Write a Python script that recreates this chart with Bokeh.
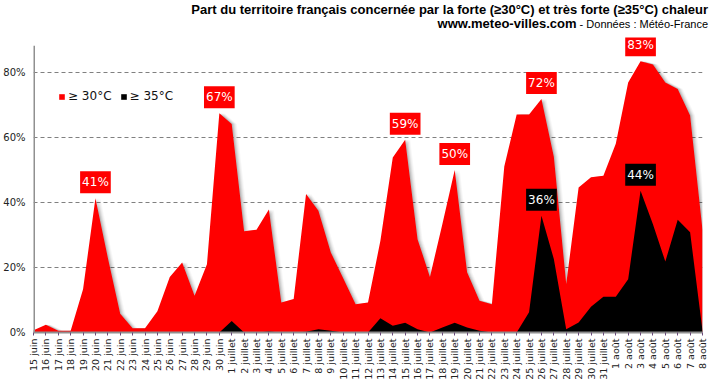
import math
from bokeh.plotting import figure
from bokeh.layouts import column
from bokeh.models import Range1d, FixedTicker, Label, Legend, LegendItem, ColumnDataSource, Div
from bokeh.embed import file_html
from bokeh.resources import INLINE

dates = ["15 juin", "16 juin", "17 juin", "18 juin", "19 juin", "20 juin", "21 juin", "22 juin",
         "23 juin", "24 juin", "25 juin", "26 juin", "27 juin", "28 juin", "29 juin", "30 juin",
         "1 juillet", "2 juillet", "3 juillet", "4 juillet", "5 juillet", "6 juillet", "7 juillet",
         "8 juillet", "9 juillet", "10 juillet", "11 juillet", "12 juillet", "13 juillet",
         "14 juillet", "15 juillet", "16 juillet", "17 juillet", "18 juillet", "19 juillet",
         "20 juillet", "21 juillet", "22 juillet", "23 juillet", "24 juillet", "25 juillet",
         "26 juillet", "27 juillet", "28 juillet", "29 juillet", "30 juillet", "31 juillet",
         "1 août", "2 août", "3 août", "4 août", "5 août", "6 août", "7 août", "8 août"]

hot30 = [0.7, 2.4, 0.5, 0.5, 13.3, 41.3, 23.0, 5.8, 1.3, 1.3, 6.5, 17.1, 21.5, 11.3, 21.0, 67.4,
         64.1, 31.1, 31.6, 37.8, 9.2, 10.3, 42.6, 37.4, 24.6, 16.7, 8.7, 9.2, 28.2, 53.8, 59.3,
         28.7, 17.1, 33.3, 50.0, 18.5, 9.8, 8.7, 51.0, 67.0, 67.0, 71.8, 54.0, 14.9, 44.6, 47.7,
         48.2, 58.0, 76.9, 83.4, 82.4, 76.9, 74.9, 66.7, 31.5]

hot35 = [0, 0, 0, 0, 0, 0, 0, 0, 0, 0, 0, 0, 0, 0, 0, 0,
         3.5, 0, 0, 0.3, 0, 0, 0.2, 1.0, 0.5, 0, 0, 0, 4.4, 2.1, 3.0,
         1.0, 0, 1.5, 3.0, 1.5, 0.5, 0, 0, 0, 6.2, 35.9, 22.6, 1.0, 3.1, 7.9,
         11.0, 11.0, 16.4, 43.6, 33.3, 21.8, 34.7, 30.8, 0.5]

peaks30 = [5, 15, 30, 34, 41, 49]
peaks35 = [41, 49]

y_ticks = [0, 20, 40, 60, 80]
y_axis_top = 88.2

title1 = "Part du territoire français concernée par la forte (≥30°C) et très forte (≥35°C) chaleur"
title2_bold = "www.meteo-villes.com"
title2_rest = " - Données : Météo-France"

xs = list(range(len(dates)))
src = ColumnDataSource(dict(x=xs, red=hot30, black=hot35))

W = 713
head = Div(text=(
    f'<div style="width:{W - 5}px;text-align:right;font-family:\'Liberation Sans\';'
    'line-height:14px;color:black;margin-top:3px;white-space:nowrap;">'
    f'<div style="font-weight:bold;font-size:13px;">{title1}</div>'
    f'<div><b style="font-size:13px;">{title2_bold}</b>'
    f'<span style="font-size:11px;">{title2_rest}</span></div></div>'),
    width=W, height=32, margin=0)

p = figure(width=W, height=350, output_backend="svg", toolbar_location=None,
           x_range=Range1d(0, len(dates) - 1), y_range=Range1d(0, 90.7),
           min_border_left=32, min_border_right=11, min_border_top=5, min_border_bottom=50,
           margin=0)
p.outline_line_color = None
p.background_fill_color = "white"

# soft drop shadow on the right of the red area
px = (len(dates) - 1) / 666.0
for k, a in [(1, 0.10), (2, 0.08), (3, 0.06), (4, 0.04), (5, 0.03)]:
    p.varea(x=[v + k * px for v in xs], y1=0, y2=hot30, fill_color="black", fill_alpha=a)

r_red = p.varea(x="x", y1=0, y2="red", source=src, fill_color="#FF0000")
r_black = p.varea(x="x", y1=0, y2="black", source=src, fill_color="black")

# y axis line (stops below the frame top, like the reference)
p.segment(x0=[0], y0=[0], x1=[0], y1=[y_axis_top], line_color="#909090", line_width=3)

# axes
p.xaxis.ticker = FixedTicker(ticks=xs)
p.xaxis.major_label_overrides = {i: d for i, d in enumerate(dates)}
p.xaxis.major_label_orientation = math.pi / 2
p.xaxis.major_label_text_font = "DejaVu Sans"
p.xaxis.major_label_text_font_size = "9.5px"
p.xaxis.major_label_text_color = "#222222"
p.xaxis.major_label_standoff = 3
p.xaxis.major_tick_out = 3
p.xaxis.major_tick_in = 0
p.xaxis.major_tick_line_color = "#6a4a7a"
p.xaxis.minor_tick_line_color = None
p.xaxis.axis_line_color = "#909090"
p.xaxis.axis_line_width = 2

p.yaxis.ticker = FixedTicker(ticks=y_ticks)
p.yaxis.major_label_overrides = {t: f"{t}%" for t in y_ticks}
p.yaxis.major_label_text_font = "DejaVu Sans"
p.yaxis.major_label_text_font_size = "10px"
p.yaxis.major_label_text_color = "#222222"
p.yaxis.major_tick_out = 0
p.yaxis.major_tick_in = 0
p.yaxis.minor_tick_line_color = None
p.yaxis.major_label_standoff = 8
p.yaxis.axis_line_color = None

p.xgrid.visible = False
p.ygrid.grid_line_color = "#808080"
p.ygrid.grid_line_dash = "4 3"
p.ygrid.grid_line_width = 1

# value labels
for i in peaks30:
    p.add_layout(Label(x=xs[i], y=hot30[i], text=f"{round(hot30[i])}%", y_offset=16,
                       text_align="center", text_baseline="middle",
                       text_font="DejaVu Sans", text_font_size="12px", text_color="white",
                       background_fill_color="#FF0000", padding=(2, 4)))
for i in peaks35:
    p.add_layout(Label(x=xs[i], y=hot35[i], text=f"{round(hot35[i])}%", y_offset=16,
                       text_align="center", text_baseline="middle",
                       text_font="DejaVu Sans", text_font_size="12px", text_color="white",
                       background_fill_color="black", padding=(2, 4)))

# legend
legend = Legend(items=[LegendItem(label="≥ 30°C", renderers=[r_red]),
                       LegendItem(label="≥ 35°C", renderers=[r_black])],
                orientation="horizontal", location=(25, 229),
                glyph_width=7, glyph_height=7, label_standoff=3, spacing=8,
                label_text_font="DejaVu Sans", label_text_font_size="12px",
                label_text_color="#111111", label_height=10,
                background_fill_alpha=0, border_line_color=None, padding=0, margin=0)
p.add_layout(legend)

layout = column(head, p, spacing=0)
open("out.html", "w").write(file_html(layout, INLINE))
